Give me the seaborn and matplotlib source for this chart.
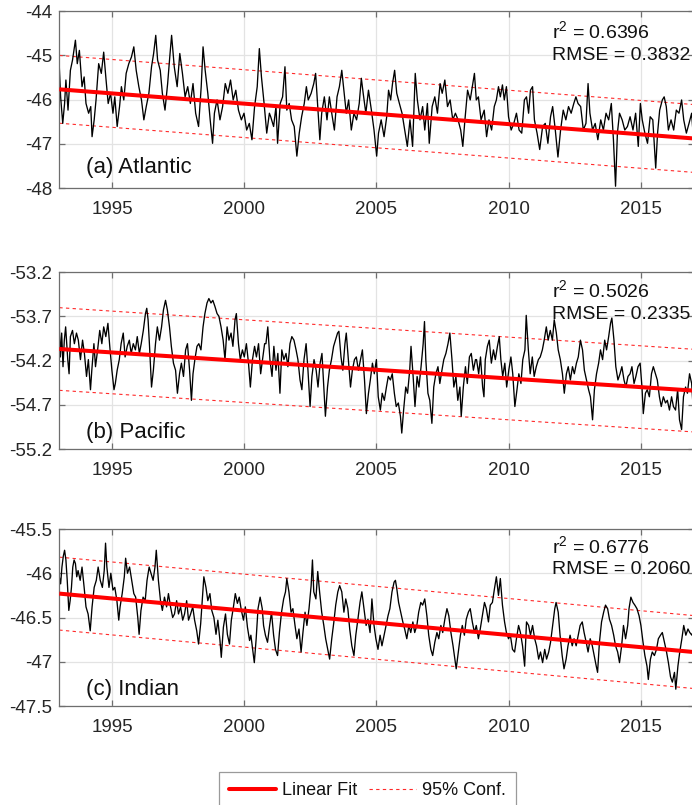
import numpy as np
import pandas as pd
import matplotlib
matplotlib.use("Agg")
import matplotlib.pyplot as plt
from matplotlib.lines import Line2D
import seaborn as sns

sns.set_theme(style="whitegrid")
plt.rcParams["font.family"] = ["Liberation Sans", "DejaVu Sans"]
plt.rcParams["mathtext.fontset"] = "custom"
plt.rcParams["mathtext.rm"] = "Liberation Sans"
plt.rcParams["mathtext.default"] = "regular"
plt.rcParams["axes.unicode_minus"] = False

# ---------------------------------------------------------------- data
# (decimal year, value) samples of each basin series
atlantic_pts = [
    (1993.0, -45.26), (1993.05, -45.94), (1993.13, -46.54), (1993.2, -46.09), (1993.25, -45.56),
    (1993.33, -46.24), (1993.42, -45.34), (1993.5, -45.11), (1993.61, -44.66), (1993.68, -45.19),
    (1993.76, -44.89), (1993.86, -45.71), (1993.94, -45.49), (1994.01, -46.09), (1994.11, -46.31),
    (1994.19, -46.16), (1994.24, -46.84), (1994.32, -46.46), (1994.39, -46.01), (1994.49, -45.19),
    (1994.59, -45.41), (1994.68, -44.93), (1994.77, -45.56), (1994.85, -46.09), (1994.94, -45.86),
    (1995.03, -46.31), (1995.1, -45.94), (1995.19, -46.61), (1995.28, -46.16), (1995.35, -45.71),
    (1995.44, -46.01), (1995.53, -45.41), (1995.63, -45.19), (1995.73, -45.04), (1995.82, -44.81),
    (1995.91, -45.34), (1996.01, -45.71), (1996.11, -46.01), (1996.2, -46.46), (1996.29, -46.16),
    (1996.39, -45.86), (1996.49, -45.26), (1996.57, -44.96), (1996.65, -44.55), (1996.72, -45.11),
    (1996.82, -45.34), (1996.9, -45.86), (1997.0, -46.24), (1997.1, -45.64), (1997.18, -45.04),
    (1997.25, -44.55), (1997.35, -45.26), (1997.46, -45.71), (1997.56, -44.96), (1997.66, -45.41),
    (1997.76, -45.94), (1997.86, -45.71), (1997.96, -46.09), (1998.06, -45.64), (1998.16, -46.31),
    (1998.27, -46.61), (1998.37, -45.71), (1998.44, -44.81), (1998.52, -45.34), (1998.62, -45.86),
    (1998.71, -46.46), (1998.8, -46.99), (1998.87, -46.31), (1998.97, -46.01), (1999.08, -46.46),
    (1999.18, -46.16), (1999.28, -45.64), (1999.38, -45.86), (1999.48, -45.56), (1999.58, -46.01),
    (1999.68, -45.79), (1999.78, -46.24), (1999.89, -46.46), (1999.99, -46.31), (2000.09, -46.69),
    (2000.19, -46.54), (2000.29, -46.91), (2000.39, -46.16), (2000.49, -45.71), (2000.57, -44.85),
    (2000.65, -45.49), (2000.75, -46.09), (2000.85, -46.76), (2000.95, -46.31),
    (2001.0, -46.39), (2001.11, -46.61), (2001.2, -46.16), (2001.26, -46.99), (2001.36, -46.09),
    (2001.45, -45.94), (2001.54, -45.26), (2001.61, -46.24), (2001.7, -46.09), (2001.79, -46.46),
    (2001.89, -46.61), (2001.99, -47.28), (2002.08, -46.76), (2002.17, -46.39), (2002.27, -46.09),
    (2002.35, -45.71), (2002.42, -46.01), (2002.53, -45.86), (2002.63, -45.64), (2002.7, -45.41),
    (2002.78, -46.16), (2002.86, -46.91), (2002.93, -46.31), (2003.03, -45.94), (2003.13, -46.46),
    (2003.22, -45.94), (2003.31, -46.31), (2003.41, -46.69), (2003.51, -45.94), (2003.6, -45.71),
    (2003.69, -45.34), (2003.77, -45.79), (2003.86, -46.31), (2003.95, -46.01), (2004.05, -46.69),
    (2004.15, -46.31), (2004.25, -46.46), (2004.35, -46.09), (2004.43, -45.52), (2004.5, -45.86),
    (2004.6, -46.31), (2004.7, -45.79), (2004.81, -46.24), (2004.91, -46.69), (2005.01, -47.28),
    (2005.08, -46.76), (2005.18, -46.46), (2005.29, -46.84), (2005.39, -46.39), (2005.46, -45.79),
    (2005.54, -46.01), (2005.61, -45.64), (2005.69, -45.34), (2005.77, -45.86), (2005.87, -46.09),
    (2005.97, -46.31), (2006.07, -46.69), (2006.17, -47.06), (2006.27, -46.46), (2006.37, -47.06),
    (2006.47, -45.41), (2006.55, -46.01), (2006.65, -46.46), (2006.75, -46.16), (2006.83, -46.69),
    (2006.93, -46.09), (2007.0, -46.99), (2007.11, -46.16), (2007.21, -45.94), (2007.31, -46.31),
    (2007.41, -45.64), (2007.49, -45.86), (2007.59, -45.56), (2007.69, -46.16), (2007.79, -46.01),
    (2007.89, -46.46), (2007.99, -46.31), (2008.09, -46.46), (2008.19, -46.69), (2008.27, -47.06),
    (2008.35, -46.46), (2008.45, -45.79), (2008.55, -46.01), (2008.63, -45.71), (2008.71, -45.41),
    (2008.78, -46.01), (2008.86, -45.94), (2008.96, -46.46),
    (2009.08, -46.24), (2009.17, -46.84), (2009.26, -46.46), (2009.36, -46.69), (2009.46, -46.16),
    (2009.54, -46.01), (2009.62, -45.71), (2009.69, -45.94), (2009.77, -45.67), (2009.84, -46.01),
    (2009.92, -45.71), (2010.0, -46.39), (2010.1, -46.69), (2010.2, -46.54), (2010.3, -46.31),
    (2010.4, -46.69), (2010.5, -46.76), (2010.6, -46.01), (2010.68, -45.94), (2010.76, -46.31),
    (2010.83, -45.79), (2010.91, -45.71), (2010.98, -46.46), (2011.08, -46.76), (2011.18, -47.13),
    (2011.29, -46.61), (2011.39, -46.54), (2011.49, -46.99), (2011.59, -46.39), (2011.67, -46.16),
    (2011.77, -46.69), (2011.87, -47.3), (2011.97, -46.69), (2012.07, -46.24), (2012.17, -46.46),
    (2012.27, -46.16), (2012.37, -46.31), (2012.47, -46.09), (2012.55, -45.94), (2012.63, -46.09),
    (2012.73, -46.16), (2012.83, -46.69), (2012.93, -46.54), (2013.01, -45.64), (2013.08, -46.31),
    (2013.18, -46.69), (2013.28, -46.54), (2013.38, -46.91), (2013.49, -46.46), (2013.59, -46.69),
    (2013.69, -46.31), (2013.79, -46.46), (2013.89, -46.09), (2013.97, -46.91), (2014.05, -47.96),
    (2014.12, -46.76), (2014.2, -46.31), (2014.3, -46.46), (2014.4, -46.69), (2014.5, -46.61),
    (2014.6, -46.39), (2014.71, -46.69), (2014.81, -46.31), (2014.91, -47.06), (2014.99, -46.09),
    (2015.06, -46.46), (2015.16, -46.76), (2015.26, -46.99), (2015.36, -46.39), (2015.46, -46.46),
    (2015.57, -47.55), (2015.64, -46.76), (2015.72, -46.24), (2015.82, -46.01), (2015.89, -45.94),
    (2015.97, -46.16), (2016.05, -46.69), (2016.15, -46.46), (2016.25, -46.69), (2016.35, -46.24),
    (2016.45, -46.31), (2016.55, -46.01), (2016.63, -46.46), (2016.73, -46.76), (2016.83, -46.54),
    (2016.93, -46.31), (2017.01, -46.99),
]

pacific_pts = [
    (1993.0, -53.82), (1993.04, -54.16), (1993.09, -53.89), (1993.14, -54.27), (1993.19, -53.97),
    (1993.24, -53.82), (1993.32, -54.19), (1993.37, -54.35), (1993.42, -53.93), (1993.5, -53.86),
    (1993.57, -54.01), (1993.65, -53.89), (1993.72, -53.97), (1993.8, -54.19), (1993.88, -53.97),
    (1993.95, -54.12), (1994.03, -54.38), (1994.1, -54.19), (1994.18, -54.53), (1994.23, -54.31),
    (1994.31, -54.01), (1994.37, -54.27), (1994.45, -54.08), (1994.53, -53.86), (1994.61, -54.01),
    (1994.68, -53.82), (1994.76, -53.93), (1994.84, -53.78), (1994.91, -54.04), (1994.99, -54.31),
    (1995.07, -54.53), (1995.12, -54.46), (1995.19, -54.31), (1995.27, -54.19), (1995.34, -54.01),
    (1995.42, -53.89), (1995.49, -54.16), (1995.57, -54.04), (1995.65, -53.97), (1995.72, -54.12),
    (1995.8, -54.01), (1995.88, -54.08), (1995.95, -53.93), (1996.03, -54.12), (1996.1, -54.01),
    (1996.18, -53.86), (1996.26, -53.67), (1996.31, -53.61), (1996.36, -53.74), (1996.41, -54.01),
    (1996.49, -54.50), (1996.56, -54.31), (1996.64, -54.01), (1996.71, -53.82), (1996.79, -53.97),
    (1996.87, -53.82), (1996.94, -53.63), (1997.02, -53.52), (1997.09, -53.63), (1997.17, -53.82),
    (1997.24, -54.04), (1997.32, -54.23), (1997.4, -54.31), (1997.47, -54.57), (1997.55, -54.35),
    (1997.62, -54.23), (1997.7, -54.38), (1997.78, -54.08), (1997.85, -54.01), (1997.93, -54.31),
    (1998.0, -54.65), (1998.06, -54.35), (1998.13, -54.19), (1998.21, -54.04), (1998.28, -54.01),
    (1998.36, -54.08), (1998.44, -53.82), (1998.51, -53.67), (1998.59, -53.55), (1998.66, -53.50),
    (1998.74, -53.55), (1998.81, -53.52), (1998.89, -53.59), (1998.97, -53.67), (1999.04, -53.70),
    (1999.12, -53.82), (1999.2, -53.97), (1999.27, -54.19), (1999.35, -53.82), (1999.42, -53.97),
    (1999.5, -53.89), (1999.57, -54.04), (1999.65, -53.74), (1999.7, -53.67), (1999.78, -54.01),
    (1999.85, -54.19), (1999.93, -54.08), (2000.0, -54.16), (2000.08, -54.01), (2000.16, -54.23),
    (2000.23, -54.50), (2000.31, -54.19), (2000.39, -54.04), (2000.46, -54.16), (2000.54, -54.01),
    (2000.62, -54.35), (2000.69, -54.19), (2000.77, -54.01),
    (2000.82, -54.01), (2000.89, -53.82), (2000.97, -54.19), (2001.05, -54.38), (2001.12, -54.04),
    (2001.2, -54.31), (2001.27, -54.12), (2001.35, -54.57), (2001.42, -54.08), (2001.5, -54.19),
    (2001.58, -54.12), (2001.65, -54.27), (2001.73, -54.01), (2001.8, -53.93), (2001.88, -53.97),
    (2001.96, -54.08), (2002.03, -54.19), (2002.11, -54.42), (2002.18, -54.53), (2002.26, -54.19),
    (2002.34, -54.01), (2002.41, -54.31), (2002.49, -54.72), (2002.56, -54.38), (2002.64, -54.19),
    (2002.72, -54.31), (2002.79, -54.50), (2002.87, -54.23), (2002.94, -54.12), (2003.02, -54.57),
    (2003.07, -54.83), (2003.15, -54.50), (2003.22, -54.31), (2003.3, -54.19), (2003.38, -54.04),
    (2003.45, -53.97), (2003.53, -53.89), (2003.58, -53.87), (2003.66, -54.16), (2003.73, -54.31),
    (2003.81, -54.01), (2003.86, -53.89), (2003.94, -54.19), (2004.02, -54.50), (2004.09, -54.31),
    (2004.17, -54.19), (2004.24, -54.16), (2004.32, -54.31), (2004.4, -54.19), (2004.47, -54.08),
    (2004.55, -54.42), (2004.62, -54.80), (2004.7, -54.57), (2004.77, -54.42), (2004.85, -54.23),
    (2004.92, -54.35), (2005.0, -54.19), (2005.07, -54.61), (2005.15, -54.76), (2005.22, -54.57),
    (2005.3, -54.65), (2005.38, -54.50), (2005.45, -54.38), (2005.53, -54.42), (2005.6, -54.35),
    (2005.68, -54.57), (2005.75, -54.72), (2005.83, -54.68), (2005.91, -54.83), (2005.96, -55.02),
    (2006.03, -54.76), (2006.11, -54.50), (2006.18, -54.57), (2006.26, -54.31), (2006.31, -54.04),
    (2006.39, -54.38), (2006.46, -54.72), (2006.54, -54.38), (2006.61, -54.50), (2006.69, -54.27),
    (2006.77, -54.01), (2006.82, -53.76), (2006.87, -54.19), (2006.95, -54.57), (2007.02, -54.65),
    (2007.1, -54.91), (2007.17, -54.50), (2007.25, -54.35), (2007.33, -54.27), (2007.4, -54.46),
    (2007.48, -54.31), (2007.55, -54.19), (2007.63, -54.12), (2007.71, -54.01), (2007.78, -53.89),
    (2007.86, -54.19), (2007.93, -54.50), (2008.01, -54.38), (2008.08, -54.65), (2008.16, -54.50),
    (2008.21, -54.83), (2008.29, -54.50), (2008.37, -54.27), (2008.44, -54.46), (2008.52, -54.16),
    (2008.59, -54.12), (2008.67, -54.31), (2008.75, -54.19),
    (2008.79, -54.19), (2008.87, -54.35), (2008.94, -54.16), (2009.02, -54.50), (2009.07, -54.61),
    (2009.12, -54.19), (2009.2, -54.04), (2009.27, -53.97), (2009.35, -54.23), (2009.43, -54.08),
    (2009.5, -54.19), (2009.58, -54.04), (2009.65, -53.93), (2009.71, -54.19), (2009.78, -54.38),
    (2009.86, -54.23), (2009.93, -54.50), (2010.01, -54.31), (2010.09, -54.16), (2010.16, -54.35),
    (2010.24, -54.72), (2010.32, -54.53), (2010.39, -54.35), (2010.47, -54.46), (2010.54, -54.19),
    (2010.62, -54.08), (2010.67, -53.69), (2010.75, -54.08), (2010.82, -54.35), (2010.9, -54.16),
    (2010.97, -54.38), (2011.05, -54.27), (2011.13, -54.19), (2011.2, -54.16), (2011.28, -54.08),
    (2011.35, -53.97), (2011.43, -53.82), (2011.5, -53.97), (2011.58, -53.86), (2011.66, -53.97),
    (2011.73, -53.74), (2011.81, -53.89), (2011.88, -54.08), (2011.96, -54.19), (2012.04, -54.35),
    (2012.11, -54.57), (2012.19, -54.35), (2012.26, -54.27), (2012.34, -54.42), (2012.42, -54.27),
    (2012.49, -54.35), (2012.57, -54.23), (2012.64, -54.16), (2012.72, -53.97), (2012.8, -54.08),
    (2012.87, -54.31), (2012.95, -54.42), (2013.03, -54.53), (2013.1, -54.61), (2013.18, -54.87),
    (2013.25, -54.53), (2013.33, -54.35), (2013.41, -54.23), (2013.48, -54.08), (2013.56, -54.19),
    (2013.64, -53.97), (2013.71, -54.08), (2013.79, -53.93), (2013.86, -53.78), (2013.91, -53.72),
    (2013.99, -53.97), (2014.06, -54.27), (2014.14, -54.42), (2014.22, -54.35), (2014.29, -54.27),
    (2014.37, -54.42), (2014.44, -54.50), (2014.52, -54.38), (2014.6, -54.35), (2014.67, -54.27),
    (2014.75, -54.46), (2014.82, -54.38), (2014.9, -54.27), (2014.98, -54.23), (2015.05, -54.50),
    (2015.1, -54.80), (2015.18, -54.57), (2015.25, -54.53), (2015.33, -54.61), (2015.41, -54.35),
    (2015.48, -54.27), (2015.56, -54.35), (2015.63, -54.42), (2015.71, -54.61), (2015.78, -54.72),
    (2015.86, -54.61), (2015.94, -54.68), (2016.01, -54.65), (2016.09, -54.76), (2016.17, -54.61),
    (2016.24, -54.72), (2016.32, -54.76), (2016.4, -54.53), (2016.47, -54.87), (2016.55, -54.98),
    (2016.62, -54.61), (2016.7, -54.50), (2016.77, -54.57), (2016.85, -54.35), (2016.93, -54.46),
    (2017.0, -54.80),
]

indian_pts = [
    (1993.0, -46.04), (1993.05, -46.12), (1993.1, -45.93), (1993.15, -45.81), (1993.2, -45.74),
    (1993.25, -45.85), (1993.3, -46.08), (1993.36, -46.42), (1993.41, -46.31), (1993.46, -46.16),
    (1993.51, -45.93), (1993.56, -45.85), (1993.61, -45.89), (1993.66, -46.04), (1993.71, -45.97),
    (1993.79, -46.08), (1993.86, -45.93), (1993.94, -46.16), (1994.01, -46.38), (1994.09, -46.46),
    (1994.17, -46.65), (1994.24, -46.38), (1994.32, -46.16), (1994.4, -46.08), (1994.47, -45.93),
    (1994.55, -46.08), (1994.63, -46.16), (1994.7, -45.97), (1994.75, -45.66), (1994.8, -45.93),
    (1994.88, -46.16), (1994.95, -46.0), (1995.03, -46.19), (1995.1, -46.16), (1995.18, -46.31),
    (1995.25, -46.53), (1995.3, -46.38), (1995.38, -46.23), (1995.46, -46.04), (1995.51, -45.83),
    (1995.58, -46.0), (1995.66, -45.93), (1995.74, -46.08), (1995.82, -46.23), (1995.89, -46.27),
    (1995.97, -46.5), (1996.02, -46.69), (1996.09, -46.42), (1996.17, -46.27), (1996.25, -46.31),
    (1996.32, -46.08), (1996.4, -45.93), (1996.47, -46.0), (1996.55, -46.08), (1996.62, -45.93),
    (1996.67, -45.74), (1996.75, -46.08), (1996.83, -46.31), (1996.9, -46.42), (1996.98, -46.27),
    (1997.06, -46.38), (1997.13, -46.23), (1997.21, -46.38), (1997.29, -46.5), (1997.36, -46.46),
    (1997.44, -46.31), (1997.51, -46.46), (1997.59, -46.38), (1997.67, -46.53), (1997.74, -46.46),
    (1997.82, -46.31), (1997.89, -46.53), (1997.97, -46.46), (1998.05, -46.38), (1998.12, -46.53),
    (1998.2, -46.65), (1998.27, -46.8), (1998.35, -46.57), (1998.42, -46.27), (1998.47, -46.04),
    (1998.55, -46.16), (1998.62, -46.31), (1998.7, -46.23), (1998.77, -46.42), (1998.85, -46.5),
    (1998.93, -46.69), (1999.0, -46.53), (1999.08, -46.76), (1999.13, -46.95), (1999.21, -46.61),
    (1999.29, -46.46), (1999.36, -46.69), (1999.44, -46.8), (1999.51, -46.53), (1999.59, -46.38),
    (1999.66, -46.23), (1999.74, -46.34), (1999.81, -46.27), (1999.89, -46.42), (1999.97, -46.53),
    (2000.04, -46.38), (2000.12, -46.61), (2000.2, -46.76),
    (2000.25, -46.7), (2000.33, -46.89), (2000.38, -47.01), (2000.45, -46.74), (2000.52, -46.4),
    (2000.6, -46.27), (2000.68, -46.4), (2000.73, -46.59), (2000.8, -46.7), (2000.88, -46.78),
    (2000.96, -46.59), (2001.03, -46.44), (2001.11, -46.7), (2001.18, -46.86), (2001.26, -46.93),
    (2001.33, -46.67), (2001.41, -46.44), (2001.49, -46.29), (2001.56, -46.21), (2001.61, -46.06),
    (2001.69, -46.21), (2001.77, -46.44), (2001.84, -46.4), (2001.92, -46.59), (2001.99, -46.74),
    (2002.07, -46.63), (2002.15, -46.89), (2002.22, -46.67), (2002.3, -46.44), (2002.37, -46.59),
    (2002.45, -46.4), (2002.53, -46.14), (2002.58, -45.85), (2002.63, -46.21), (2002.71, -46.29),
    (2002.78, -45.98), (2002.85, -46.21), (2002.93, -46.44), (2003.01, -46.59), (2003.08, -46.74),
    (2003.16, -46.86), (2003.23, -46.97), (2003.31, -46.74), (2003.39, -46.55), (2003.46, -46.36),
    (2003.54, -46.21), (2003.61, -46.14), (2003.69, -46.21), (2003.77, -46.44), (2003.84, -46.29),
    (2003.92, -46.4), (2003.99, -46.63), (2004.07, -46.82), (2004.15, -46.93), (2004.22, -46.7),
    (2004.3, -46.52), (2004.38, -46.33), (2004.45, -46.21), (2004.53, -46.4), (2004.61, -46.59),
    (2004.68, -46.52), (2004.76, -46.67), (2004.83, -46.29), (2004.91, -46.59), (2004.98, -46.74),
    (2005.06, -46.86), (2005.14, -46.7), (2005.21, -46.82), (2005.29, -46.7), (2005.36, -46.59),
    (2005.44, -46.48), (2005.51, -46.4), (2005.59, -46.21), (2005.67, -46.1), (2005.72, -46.08),
    (2005.77, -46.17), (2005.84, -46.33), (2005.92, -46.44), (2006.0, -46.55), (2006.07, -46.63),
    (2006.15, -46.74), (2006.23, -46.59), (2006.3, -46.67), (2006.38, -46.55), (2006.45, -46.67),
    (2006.53, -46.59), (2006.6, -46.44), (2006.68, -46.33), (2006.75, -46.36), (2006.83, -46.29),
    (2006.91, -46.48), (2006.98, -46.7), (2007.06, -46.86), (2007.13, -46.93), (2007.21, -46.78),
    (2007.29, -46.67), (2007.36, -46.74), (2007.44, -46.59), (2007.51, -46.67), (2007.59, -46.52),
    (2007.67, -46.4), (2007.74, -46.48), (2007.82, -46.67), (2007.9, -46.82), (2007.97, -46.97),
    (2008.02, -47.08), (2008.1, -46.89), (2008.18, -46.7), (2008.25, -46.59), (2008.33, -46.7),
    (2008.4, -46.52), (2008.48, -46.44), (2008.55, -46.4), (2008.63, -46.55), (2008.71, -46.67),
    (2008.78, -46.59), (2008.86, -46.74), (2008.93, -46.63), (2009.01, -46.48), (2009.09, -46.33),
    (2009.16, -46.4), (2009.24, -46.55), (2009.31, -46.36), (2009.39, -46.33), (2009.47, -46.17),
    (2009.54, -46.04), (2009.62, -46.25), (2009.69, -46.06), (2009.77, -46.36), (2009.85, -46.55),
    (2009.92, -46.67), (2010.0, -46.74), (2010.07, -46.7), (2010.15, -46.86), (2010.23, -46.89),
    (2010.3, -46.74), (2010.38, -46.59), (2010.45, -46.67), (2010.53, -46.82), (2010.61, -47.05),
    (2010.68, -46.55), (2010.76, -46.59), (2010.83, -46.7), (2010.91, -46.59), (2010.99, -46.74),
    (2011.06, -46.82), (2011.14, -46.97), (2011.21, -46.89), (2011.29, -47.01), (2011.37, -46.86),
    (2011.44, -46.97), (2011.52, -46.89), (2011.59, -46.78), (2011.67, -46.59), (2011.75, -46.4),
    (2011.8, -46.33), (2011.88, -46.44), (2011.95, -46.7), (2012.03, -46.93), (2012.1, -47.08),
    (2012.18, -46.97), (2012.25, -46.82), (2012.33, -46.7), (2012.41, -46.82), (2012.48, -46.74),
    (2012.56, -46.82), (2012.64, -46.7), (2012.71, -46.59), (2012.79, -46.55), (2012.86, -46.67),
    (2012.94, -46.78), (2013.01, -46.89), (2013.09, -46.74), (2013.17, -46.82), (2013.24, -46.93),
    (2013.32, -47.05), (2013.37, -47.12), (2013.44, -46.78), (2013.52, -46.55), (2013.6, -46.44),
    (2013.67, -46.36), (2013.75, -46.4), (2013.82, -46.52), (2013.9, -46.59), (2013.98, -46.7),
    (2014.05, -46.82), (2014.13, -46.89), (2014.2, -47.01), (2014.28, -46.82), (2014.35, -46.59),
    (2014.43, -46.74), (2014.51, -46.59), (2014.56, -46.4), (2014.63, -46.27), (2014.71, -46.33),
    (2014.78, -46.36), (2014.86, -46.4), (2014.94, -46.48), (2015.01, -46.59), (2015.09, -46.78),
    (2015.16, -46.93), (2015.24, -47.05), (2015.29, -47.2), (2015.37, -46.97), (2015.44, -46.89),
    (2015.52, -46.93), (2015.6, -46.86), (2015.67, -46.74), (2015.75, -46.7), (2015.82, -46.67),
    (2015.9, -46.78), (2015.98, -46.89), (2016.05, -47.01), (2016.13, -47.17), (2016.2, -47.23),
    (2016.28, -47.12), (2016.33, -47.31), (2016.41, -47.05), (2016.48, -46.89), (2016.56, -46.74),
    (2016.63, -46.59), (2016.71, -46.7), (2016.79, -46.63), (2016.86, -46.67), (2016.94, -46.7),
    (2017.01, -46.63),
]

panel_labels = ["(a) Atlantic", "(b) Pacific", "(c) Indian"]
r2_values = [0.6396, 0.5026, 0.6776]
rmse_values = [0.3832, 0.2335, 0.2060]
# linear fit evaluated at the two ends of the record (1993, 2017)
fit_years = [1993.0, 2017.0]
fit_ends = [(-45.77, -46.88), (-54.07, -54.54), (-46.23, -46.89)]

y_limits = [(-48.0, -44.0), (-55.2, -53.2), (-47.5, -45.5)]
y_ticks = [[-48, -47, -46, -45, -44],
           [-55.2, -54.7, -54.2, -53.7, -53.2],
           [-47.5, -47.0, -46.5, -46.0, -45.5]]
y_tick_labels = [["-48", "-47", "-46", "-45", "-44"],
                 ["-55.2", "-54.7", "-54.2", "-53.7", "-53.2"],
                 ["-47.5", "-47", "-46.5", "-46", "-45.5"]]
x_ticks = [1995, 2000, 2005, 2010, 2015]
x_tick_labels = ["1995", "2000", "2005", "2010", "2015"]

# ---------------------------------------------------------------- layout
W, H = 692, 805
fig = plt.figure(figsize=(W / 100, H / 100), dpi=100)
ax_left = 59.3 / W
ax_width = (693.5 - 59.3) / W
ax_height = 177 / H
ax_bottoms_px = [188, 449, 706]
label_y = [0.115, 0.095, 0.095]
r2_y = [0.885, 0.898, 0.905]
rmse_y = [0.75, 0.758, 0.772]

spine_col = "#6e6e6e"
text_col = "#262626"

series = [atlantic_pts, pacific_pts, indian_pts]
for i, pts in enumerate(series):
    ax = fig.add_axes([ax_left, 1 - ax_bottoms_px[i] / H, ax_width, ax_height])
    ax.set_facecolor("white")
    df = pd.DataFrame(pts, columns=["year", "value"])

    fit_y = np.array(fit_ends[i])
    half = 2 * rmse_values[i]
    for band in (fit_y + half, fit_y - half):
        sns.lineplot(x=fit_years, y=band, ax=ax, color="#ff2a2a", lw=0.8,
                     linestyle=(0, (3, 3)), zorder=1.8)
    sns.lineplot(data=df, x="year", y="value", ax=ax, color="black", lw=0.95,
                 estimator=None, sort=False, zorder=2)
    sns.lineplot(x=fit_years, y=fit_y, ax=ax, color="#ff0000", lw=2.9,
                 zorder=3, solid_capstyle="butt")

    ax.set_xlim(1993, 2017)
    ax.set_ylim(*y_limits[i])
    ax.set_xticks(x_ticks)
    ax.set_xticklabels(x_tick_labels)
    ax.set_yticks(y_ticks[i])
    ax.set_yticklabels(y_tick_labels[i])
    ax.set_xlabel("")
    ax.set_ylabel("")
    ax.grid(True, color="#e3e3e3", lw=0.9)
    ax.set_axisbelow(True)
    for side, sp in ax.spines.items():
        sp.set_color(spine_col)
        sp.set_linewidth(0.9)
    ax.tick_params(axis="both", direction="in", length=4, width=0.9, color=spine_col,
                   labelsize=13.5, labelcolor=text_col, bottom=True, left=True,
                   top=True, right=True)
    ax.tick_params(axis="x", pad=9)
    ax.tick_params(axis="y", pad=5)

    ax.text(0.042, label_y[i], panel_labels[i], transform=ax.transAxes,
            fontsize=16, ha="left", va="center", color="#111111")
    ax.text(0.777, r2_y[i], f"r$^2$ = {r2_values[i]:.4f}", transform=ax.transAxes,
            fontsize=14, ha="left", va="center", color="#111111")
    ax.text(0.777, rmse_y[i], f"RMSE = {rmse_values[i]:.4f}", transform=ax.transAxes,
            fontsize=14, ha="left", va="center", color="#111111")

handles = [Line2D([], [], color="#ff0000", lw=2.9),
           Line2D([], [], color="#ff2a2a", lw=0.8, linestyle=(0, (3, 3)))]
leg = fig.legend(handles, ["Linear Fit", "95% Conf."], loc="upper center",
                 bbox_to_anchor=(0.531, 1 - 763 / H), ncol=2, frameon=True,
                 fancybox=False, edgecolor="#9a9a9a", framealpha=1, fontsize=13,
                 handlelength=2.6, handletextpad=0.3, columnspacing=0.7,
                 borderpad=0.55)
leg.get_frame().set_linewidth(0.9)
for t in leg.get_texts():
    t.set_color("#111111")

fig.savefig("out.png", dpi=100)
